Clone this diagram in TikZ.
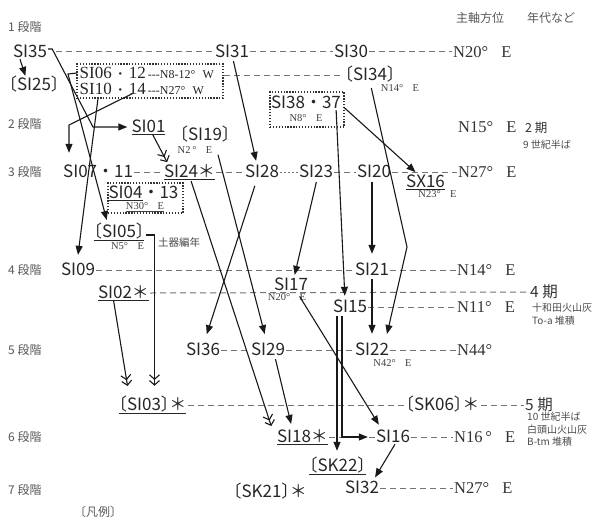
\documentclass[tikz,border=0pt]{standalone}
\usepackage{fontspec}
\setmainfont{Liberation Serif}
\newfontfamily\jp{Noto Sans CJK JP}
\newfontfamily\srf{Liberation Serif}
\usetikzlibrary{arrows.meta}
\newcommand\obr{\makebox[0.5em][r]{〔}}
\newcommand\cbr{\makebox[0.5em][l]{〕}}
\newcommand\smf{\fontsize{12}{12}\selectfont}
\newcommand\bdot{\hspace{0.15em}{\jp\fontsize{12}{12}\selectfont ・}\hspace{0.15em}}
\begin{document}
\begin{tikzpicture}[x=1pt,y=-1pt,
  nd/.style={font=\jp\fontsize{17}{17}\selectfont, text=black!85, inner sep=1pt, text height=11.5pt, text depth=0.5pt},
  bx/.style={font=\srf\fontsize{17}{17}\selectfont, text=black!85, inner sep=0.5pt, anchor=west, text height=10.5pt, text depth=0pt},
  ori/.style={font=\srf\fontsize{16.5}{17}\selectfont, text=black!80, inner sep=1pt, anchor=west, text height=11pt, text depth=0.5pt},
  sm/.style={font=\srf\fontsize{10.5}{11}\selectfont, text=black!75, inner sep=0.5pt},
  stg/.style={font=\jp\fontsize{12}{12}\selectfont, text=black!65, inner sep=0pt, text height=9.5pt, text depth=0.5pt},
  per/.style={font=\jp\fontsize{15.5}{16}\selectfont, text=black!80, anchor=west, inner sep=1pt, text height=11.5pt, text depth=0.5pt},
  note/.style={font=\jp\fontsize{10}{10}\selectfont, text=black!70, anchor=west, inner sep=0pt},
  dl/.style={draw=black!55, line width=1pt, dash pattern=on 6pt off 4pt},
  ar/.style={draw=black!90, line width=1.1pt, -{Triangle[length=9pt,width=7pt]}},
  dar/.style={draw=black!90, line width=1.1pt, -{Straight Barb[length=4.5pt,width=10pt] Straight Barb[length=4.5pt,width=10pt]}},
  dbox/.style={draw=black!80, line width=1.1pt, dash pattern=on 1.3pt off 1.6pt, inner sep=0pt}
]
\useasboundingbox (0,0) rectangle (596,519);
\fill[white] (0,0) rectangle (596,519);

% stage labels and headers
\node[stg, anchor=west] (s1) at (8,27) {1 段階};
\node[stg, anchor=west] (s2) at (8,124) {2 段階};
\node[stg, anchor=west] (s3) at (8,172) {3 段階};
\node[stg, anchor=west] (s4) at (8,270) {4 段階};
\node[stg, anchor=west] (s5) at (8,350) {5 段階};
\node[stg, anchor=west] (s6) at (8,437) {6 段階};
\node[stg, anchor=west] (s7) at (8,490) {7 段階};
\node[stg] (h1) at (480,18) {主軸方位};
\node[stg] (h2) at (551,18) {年代など};
\node[stg] (hanrei) at (98,512) {\obr 凡例\cbr};

% row 1
\node[nd] (SI35) at (30,52) {SI35};
\node[nd] (SI31) at (232,52) {SI31};
\node[nd] (SI30) at (351,52) {SI30};
\node[ori] (o1) at (452,52) {N20°\hspace{0.8em}E};
\node[nd] (SI25) at (34,85) {\obr SI25\cbr};

% box 1
\node[dbox, minimum width=146pt, minimum height=34pt] (box1) at (150,81) {};
\node[bx] (t06) at (79,73.5) {SI06\bdot 12{\smf\,{-}{-}{-}N8-12°\hspace{0.6em}W}};
\node[bx] (t10) at (79,89.5) {SI10\bdot 14{\smf\,{-}{-}{-}N27°\hspace{0.6em}W}};
\node[nd] (SI34) at (370,75) {\obr SI34\cbr};
\node[sm] (n14) at (400,88) {N14°\hspace{0.9em}E};

% box 2
\node[dbox, minimum width=74pt, minimum height=35pt] (box2) at (307,109.5) {};
\node[nd] (t38) at (306,103) {SI38・37};
\node[sm] (n8) at (306,118) {N8°\hspace{0.9em}E};

% row 2
\node[nd] (SI01) at (148.5,127) {\underline{SI01}};
\node[nd] (SI19) at (205,135) {\obr SI19\cbr};
\node[sm] (n2) at (195,150) {N2\,°\hspace{0.9em}E};
\node[ori] (o2) at (457,127) {N15°\hspace{0.8em}E};
\node[per, font=\jp\fontsize{12.5}{13}\selectfont] (p2) at (524,127) {2 期};
\node[note] (c2) at (523,145) {9 世紀半ば};

% row 3
\node[nd, anchor=west] (SI07) at (62,172) {SI07・11};
\node[nd] (SI24) at (189.5,172) {\underline{SI24＊}};
\node[nd] (SI28) at (262,172) {SI28};
\node[nd] (SI23) at (316,172) {SI23};
\node[nd] (SI20) at (374,172) {SI20};
\node[nd] (SX16) at (425.5,182) {\underline{SX16}};
\node[sm] (n23) at (437.5,194) {N23°\hspace{0.9em}E};
\node[ori] (o3) at (457,172) {N27°\hspace{0.8em}E};

% box 3
\node[dbox, minimum width=75pt, minimum height=30pt] (box3) at (145.5,198) {};
\node[nd] (t04) at (143.5,193) {\underline{SI04}・13};
\node[sm] (n30) at (145,207) {\underline{N30°\hspace{0.9em}E}};
\node[nd] (SI05) at (119,232) {\underline{\obr SI05\cbr}};
\node[sm] (n5) at (127.5,246) {N5°\hspace{0.9em}E};
\node[note, font=\jp\fontsize{10.5}{11}\selectfont] (doki) at (158,242) {土器編年};

% row 4
\node[nd] (SI09) at (78,270) {SI09};
\node[nd] (SI21) at (372,270) {SI21};
\node[ori] (o4) at (456,270) {N14°\hspace{0.8em}E};
\node[nd] (SI17) at (291,285) {SI17};
\node[sm] (n20) at (287,297) {N20°\hspace{0.9em}E};
\node[nd] (SI02) at (123.5,293) {\underline{SI02＊}};
\node[per] (p4) at (529,292) {4 期};
\node[note] (k4a) at (532,308) {十和田火山灰};
\node[note] (k4b) at (532,321) {To-a 堆積};
\node[nd] (SI15) at (350,307) {SI15};
\node[ori] (o5) at (456,307) {N11°\hspace{0.8em}E};

% row 5
\node[nd] (SI36) at (203,350) {SI36};
\node[nd] (SI29) at (268,350) {SI29};
\node[nd] (SI22) at (372,350) {SI22};
\node[sm] (n42) at (392.5,363) {N42°\hspace{0.9em}E};
\node[ori] (o6) at (456,350) {N44°};

% row 5.5
\node[nd] (SI03) at (152.5,405) {\underline{\obr SI03\cbr＊}};
\node[nd] (SK06) at (442.5,405) {\obr SK06\cbr＊};
\node[per] (p5) at (524,405) {5 期};
\node[note] (k5a) at (527,417) {10 世紀半ば};
\node[note] (k5b) at (527,430) {白頭山火山灰};
\node[note] (k5c) at (527,442) {B-tm 堆積};

% row 6, 7
\node[nd] (SI18) at (302.5,437) {\underline{SI18＊}};
\node[nd] (SI16) at (393,437) {SI16};
\node[ori] (o7) at (453,437) {N16\,°\hspace{0.8em}E};
\node[nd] (SK22) at (337.5,466) {\underline{\obr SK22\cbr}};
\node[nd] (SK21) at (270,492) {\obr SK21\cbr＊};
\node[nd] (SI32) at (362,488) {SI32};
\node[ori] (o8) at (453,488) {N27°\hspace{0.8em}E};

% bend points
\coordinate (j1) at (93,127);
\coordinate (j2) at (68,74);
\coordinate (j3) at (69,125);
\coordinate (b1) at (407,247);
\coordinate (q1) at ([xshift=-13pt]SI15.south);
\coordinate (q2) at ([xshift=-8pt]SI15.south);
\coordinate (q3) at ([yshift=-3pt]SI05.east);

% dashed level lines
\draw[dl] ([xshift=8pt]SI35.east) -- (SI31.west);
\draw[dl] (SI31.east) -- (SI30.west);
\draw[dl] (SI30.east) -- (o1.west);
\draw[dl] ([yshift=6pt]box1.east) -- (SI34.west);
\draw[dl] (SI07.east) -- (SI24.west);
\draw[dl] (SI24.east) -- (SI28.west);
\draw[dl, dash pattern=on 2pt off 2pt] (SI28.east) -- (SI23.west);
\draw[dl] (SI23.east) -- (SI20.west);
\draw[dl] (SI20.east) -- (o3.west);
\draw[dl] (SI09.east) -- (SI21.west);
\draw[dl] (SI21.east) -- (o4.west);
\draw[dl] (SI02.east) -- (p4.west);
\draw[dl] (SI15.east) -- (o5.west);
\draw[dl] (SI36.east) -- (SI29.west);
\draw[dl] (SI29.east) -- (SI22.west);
\draw[dl] (SI22.east) -- (o6.west);
\draw[dl] (SI03.east) -- (SK06.west);
\draw[dl] (SK06.east) -- (p5.west);
\draw[dl] (SI18.east) -- (SI16.west);
\draw[dl] (SI16.east) -- (o7.west);
\draw[dl] (SI32.east) -- (o8.west);

% arrows
\draw[ar, shorten >=2pt] ([xshift=-10pt]SI35.south) -- ([xshift=-8pt]SI25.north);
\draw[ar, shorten >=3pt] ([yshift=3pt]SI35.east) -- ++(4,0) -- (j1) -- (SI01.west);
\draw[ar, shorten >=5pt] ([xshift=-2pt,yshift=0.5pt]t06.west) -- (j2) -- ([xshift=-11pt]SI05.north);
\draw[ar, shorten >=12pt] ([xshift=-72pt,yshift=-4pt]t10.east) -- (j3) -- (j3 |- SI07.north);
\draw[ar, shorten >=8pt] ([xshift=-52pt]box1.south) -- ([xshift=-1pt]SI09.north);
\draw[dar, shorten >=3pt] ([xshift=4pt]SI01.south) -- ([xshift=-21pt]SI24.north);
\draw[ar, shorten <=2pt, shorten >=4pt] ([xshift=1pt]SI31.south) -- ([xshift=-5pt]SI28.north);
\draw[ar, shorten >=9pt] ([xshift=13pt,yshift=-12.5pt]SI19.south) -- ([xshift=-1pt]SI29.north);
\draw[dar, shorten <=2pt, shorten >=4pt] ([xshift=1pt]SI24.south) -- ([xshift=-30pt]SI18.north);
\draw[ar, shorten <=7pt, shorten >=9pt] ([xshift=-5pt]SI28.south) -- ([xshift=1pt]SI36.north);
\draw[ar, shorten >=4pt] ([xshift=-1pt,yshift=2.5pt]box2.east) -- ([xshift=-7pt]SX16.north);
\draw[ar, shorten >=4pt] ([xshift=-6pt]t38.south east) -- ([xshift=-5pt]SI15.north);
\draw[ar, shorten <=6pt, shorten >=9pt] (SI34.south) -- (b1) -- ([xshift=13pt]SI22.north);
\draw[ar, shorten <=3pt, shorten >=3pt] ([xshift=1pt]SI23.south) -- ([xshift=3pt]SI17.north);
\draw[ar, shorten <=3pt, shorten >=9pt] ([xshift=-2pt]SI20.south) -- (SI21.north);
\draw[ar, shorten <=2pt, shorten >=9pt] (SI21.south) -- (SI22.north);
\draw[ar, shorten <=5pt, shorten >=6pt] ([xshift=6pt]SI17.south) -- ([xshift=-11pt]SI16.north);
\draw[ar, shorten <=2pt, shorten >=6pt] ([xshift=7pt]SI29.south) -- ([xshift=-10pt]SI18.north);
\draw[ar, shorten <=2pt, shorten >=8pt] (q1) -- (q1 |- SK22.north);
\draw[ar, shorten <=2pt, shorten >=7pt] (q2) |- (SI16.west);
\draw[ar, shorten >=4pt] ([xshift=2pt]SI16.south) -- ([xshift=11pt]SI32.north);
\draw[dar, shorten >=12pt] ([xshift=-10pt]SI02.south) -- ([xshift=-23pt]SI03.north);
\draw[dar, shorten >=12pt] (q3) -| ([xshift=2pt]SI03.north);
\end{tikzpicture}
\end{document}
